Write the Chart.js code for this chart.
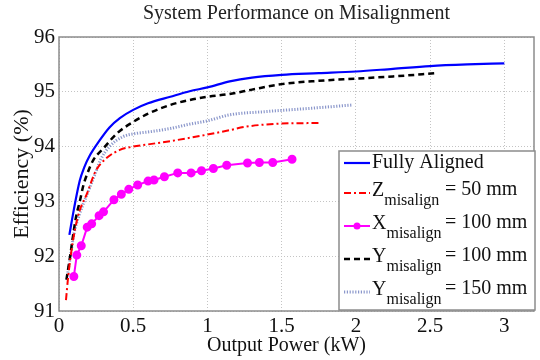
<!DOCTYPE html>
<html>
<head>
<meta charset="utf-8">
<title>System Performance on Misalignment</title>
<script src="https://cdn.jsdelivr.net/npm/chart.js@4.4.1/dist/chart.umd.min.js"></script>
<style>
  html, body { margin: 0; padding: 0; background: #fff; }
  #wrap { width: 540px; height: 360px; }
</style>
</head>
<body>
<div id="wrap"><canvas id="myChart" width="540" height="360"></canvas></div>
<script>
'use strict';

// output power (kW) and efficiency (%) for each case
let x_fully = [0.07, 0.10, 0.14, 0.17, 0.21, 0.27, 0.34, 0.41, 0.50, 0.60, 0.75, 0.88, 1.00, 1.15, 1.30, 1.50, 1.75, 2.00, 2.25, 2.50, 2.75, 3.00];
let y_fully = [92.39, 92.85, 93.38, 93.62, 93.85, 94.10, 94.35, 94.52, 94.67, 94.79, 94.91, 95.01, 95.08, 95.19, 95.26, 95.31, 95.34, 95.37, 95.42, 95.47, 95.50, 95.52];

let x_z50 = [0.047, 0.062, 0.078, 0.107, 0.14, 0.19, 0.23, 0.25, 0.32, 0.41, 0.50, 0.60, 0.75, 0.88, 1.00, 1.15, 1.25, 1.50, 1.75];
let y_z50 = [91.20, 91.63, 91.99, 92.48, 92.84, 93.15, 93.45, 93.57, 93.79, 93.94, 94.00, 94.04, 94.10, 94.16, 94.22, 94.30, 94.36, 94.42, 94.43];

let x_x100 = [0.10, 0.12, 0.15, 0.19, 0.22, 0.27, 0.30, 0.37, 0.42, 0.47, 0.53, 0.60, 0.64, 0.71, 0.80, 0.89, 0.96, 1.04, 1.13, 1.27, 1.35, 1.44, 1.57];
let y_x100 = [91.63, 92.02, 92.19, 92.53, 92.59, 92.74, 92.81, 93.03, 93.13, 93.22, 93.30, 93.37, 93.39, 93.45, 93.52, 93.52, 93.56, 93.60, 93.66, 93.70, 93.71, 93.71, 93.77];

let x_y100 = [0.05, 0.075, 0.095, 0.115, 0.14, 0.165, 0.19, 0.23, 0.30, 0.39, 0.50, 0.60, 0.75, 0.88, 1.00, 1.15, 1.30, 1.50, 1.75, 2.00, 2.25, 2.54];
let y_y100 = [91.57, 92.00, 92.38, 92.72, 93.00, 93.30, 93.50, 93.75, 93.97, 94.24, 94.45, 94.60, 94.76, 94.85, 94.91, 94.96, 95.04, 95.14, 95.20, 95.24, 95.28, 95.34];

let x_y150 = [0.06, 0.08, 0.10, 0.14, 0.20, 0.25, 0.28, 0.34, 0.43, 0.52, 0.61, 0.75, 0.88, 1.00, 1.15, 1.40, 1.70, 1.98];
let y_y150 = [91.70, 92.05, 92.40, 92.78, 93.20, 93.55, 93.76, 94.00, 94.18, 94.24, 94.27, 94.33, 94.41, 94.47, 94.58, 94.64, 94.70, 94.76];

let x_ticks = [0, 0.5, 1, 1.5, 2, 2.5, 3];
let y_ticks = [91, 92, 93, 94, 95, 96];

// legend rows: letter, subscript, rest
let legend_rows = [
  ['Fully Aligned', '', ''],
  ['Z', 'misalign', '= 50 mm'],
  ['X', 'misalign', '= 100 mm'],
  ['Y', 'misalign', '= 100 mm'],
  ['Y', 'misalign', '= 150 mm']
];

const SERIF = 'Liberation Serif';
Chart.defaults.font.family = SERIF;

function pts(xs, ys) {
  let out = [];
  for (let i = 0; i < xs.length; i++) {
    out.push({x: xs[i], y: ys[i]});
  }
  return out;
}

// plot frame + legend with subscripts
let frame_legend = {
  id: 'frameLegend',
  afterDraw(chart) {
    let ctx = chart.ctx;
    let a = chart.chartArea;
    ctx.save();
    ctx.strokeStyle = '#8c8c8c';
    ctx.lineWidth = 1.5;
    ctx.strokeRect(a.left, a.top, a.right - a.left, a.bottom - a.top);

    // legend box
    let bx = 339, by = 151, bw = 196, bh = 159;
    ctx.fillStyle = '#fff';
    ctx.fillRect(bx, by, bw, bh);
    ctx.strokeStyle = '#8c8c8c';
    ctx.lineWidth = 1.5;
    ctx.strokeRect(bx, by, bw, bh);

    let row_y = [163, 191, 224, 257, 290];
    let ds = chart.data.datasets;
    for (let i = 0; i < legend_rows.length; i++) {
      let d = ds[i];
      let ly = row_y[i] + (i === 0 ? 0 : 2);
      ctx.save();
      ctx.strokeStyle = d.borderColor;
      ctx.lineWidth = d.borderWidth;
      ctx.setLineDash(d.borderDash || []);
      ctx.beginPath();
      ctx.moveTo(344, ly);
      ctx.lineTo(370, ly);
      ctx.stroke();
      if (d.pointRadius > 0) {
        ctx.setLineDash([]);
        ctx.fillStyle = d.pointBackgroundColor;
        ctx.beginPath();
        ctx.arc(357, ly, d.pointRadius, 0, Math.PI * 2);
        ctx.fill();
      }
      ctx.restore();

      let r = legend_rows[i];
      ctx.fillStyle = '#111';
      ctx.textBaseline = 'middle';
      ctx.textAlign = 'left';
      ctx.font = '20px ' + SERIF;
      ctx.fillText(r[0], 372, row_y[i]);
      if (r[1]) {
        let w = ctx.measureText(r[0]).width;
        ctx.font = '16px ' + SERIF;
        ctx.fillText(r[1], 372 + w, row_y[i] + 10);
        ctx.font = '20px ' + SERIF;
        ctx.fillText(r[2], 445, row_y[i] - 1);
      }
    }
    ctx.restore();
  }
};

let ctx = document.getElementById('myChart').getContext('2d');
let myChart = new Chart(ctx, {
  type: 'line',
  data: {
    datasets: [
      {
        label: 'Fully Aligned',
        data: pts(x_fully, y_fully),
        borderColor: '#0000ff',
        borderWidth: 2.2,
        pointRadius: 0,
        cubicInterpolationMode: 'monotone'
      },
      {
        label: 'Z misalign = 50 mm',
        data: pts(x_z50, y_z50),
        borderColor: '#ff0000',
        borderWidth: 2,
        borderDash: [7, 3, 2, 3],
        pointRadius: 0,
        cubicInterpolationMode: 'monotone'
      },
      {
        label: 'X misalign = 100 mm',
        data: pts(x_x100, y_x100),
        borderColor: '#ff00ff',
        borderWidth: 2,
        pointRadius: 3.5,
        pointBackgroundColor: '#ff00ff',
        pointBorderColor: '#ff00ff',
        tension: 0
      },
      {
        label: 'Y misalign = 100 mm',
        data: pts(x_y100, y_y100),
        borderColor: '#000000',
        borderWidth: 2.5,
        borderDash: [6, 4],
        pointRadius: 0,
        cubicInterpolationMode: 'monotone'
      },
      {
        label: 'Y misalign = 150 mm',
        data: pts(x_y150, y_y150),
        borderColor: 'rgba(110,125,190,0.8)',
        borderWidth: 3,
        borderDash: [1.2, 1.6],
        pointRadius: 0,
        cubicInterpolationMode: 'monotone'
      }
    ]
  },
  options: {
    responsive: false,
    animation: false,
    layout: { padding: { top: 37, right: 4, left: 0, bottom: 0 } },
    plugins: {
      legend: { display: false },
      tooltip: { enabled: false },
      title: { display: false }
    },
    scales: {
      x: {
        type: 'linear',
        min: 0,
        max: 3.2,
        afterFit: s => { s.height = 49; },
        afterBuildTicks: s => { s.ticks = x_ticks.map(v => ({value: v})); },
        grid: { color: '#c4c4c4', drawTicks: false, lineWidth: 1 },
        border: { display: false, dash: [1, 2] },
        ticks: {
          color: '#111',
          padding: 3,
          maxRotation: 0,
          font: { family: SERIF, size: 21 },
          callback: v => String(v)
        },
        title: {
          display: true,
          // trailing spaces nudge the centred title a little left of the plot centre
          text: 'Output Power (kW)    ',
          color: '#111',
          font: { family: SERIF, size: 20 },
          padding: { top: 0, bottom: 2 }
        }
      },
      y: {
        type: 'linear',
        min: 91,
        max: 96,
        afterFit: s => { s.width = 59; },
        afterBuildTicks: s => { s.ticks = y_ticks.map(v => ({value: v})); },
        grid: { color: '#c4c4c4', drawTicks: false, lineWidth: 1 },
        border: { display: false, dash: [1, 2] },
        ticks: {
          color: '#111',
          padding: 4,
          font: { family: SERIF, size: 21 }
        },
        title: {
          display: true,
          text: 'Efficiency (%)',
          color: '#111',
          font: { family: SERIF, size: 22 },
          padding: { top: 9, bottom: 0 }
        }
      }
    }
  },
  plugins: [frame_legend, {
    id: 'topTitle',
    afterDraw(chart) {
      let c = chart.ctx;
      let a = chart.chartArea;
      c.save();
      c.fillStyle = '#222';
      c.font = '20px ' + SERIF;
      c.textAlign = 'center';
      c.textBaseline = 'middle';
      c.fillText('System Performance on Misalignment', (a.left + a.right) / 2, 14);
      c.restore();
    }
  }]
});
</script>
</body>
</html>
